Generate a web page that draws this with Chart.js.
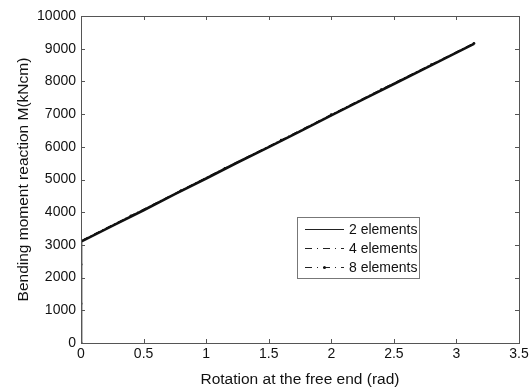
<!DOCTYPE html>
<html>
<head>
<meta charset="utf-8">
<script src="https://cdn.jsdelivr.net/npm/chart.js@4"></script>
<style>
  html, body { margin: 0; padding: 0; background: #fff; }
  #wrap { width: 532px; height: 389px; }
</style>
</head>
<body>
<div id="wrap"><canvas id="momentChart" width="532" height="389"></canvas></div>
<script>
// values
const seriesNames = ['2 elements', '4 elements', '8 elements'];
const rot2 = [0, 0, 0.25, 0.5, 0.75, 1.0, 1.25, 1.5, 1.75, 2.0, 2.25, 2.5, 2.75, 3.0, 3.14];
const mom2 = [0, 3100, 3580, 4060, 4550, 5030, 5520, 5990, 6470, 6960, 7440, 7920, 8400, 8880, 9150];
const rot4 = [0, 0, 0.5, 1.0, 1.5, 2.0, 2.5, 3.0, 3.14];
const mom4 = [0, 3110, 4070, 5040, 6000, 6970, 7930, 8890, 9160];
const rot8 = [0, 0, 0, 0, 0.4, 0.8, 1.15, 1.6, 2.0, 2.4, 2.8, 3.14];
const mom8 = [0, 1200, 2400, 3120, 3890, 4660, 5340, 6200, 6980, 7750, 8510, 9160];
const xTicks = [0, 0.5, 1, 1.5, 2, 2.5, 3, 3.5];
const yTicks = [0, 1000, 2000, 3000, 4000, 5000, 6000, 7000, 8000, 9000, 10000];

const toPoints = (xs, ys) => xs.map((x, i) => ({ x: x, y: ys[i] }));
const FONT = '"Liberation Sans", Arial, sans-serif';

// matlab style box + inward ticks
const boxPlugin = {
    id: 'box',
    afterDraw(chart) {
        const ctx = chart.ctx;
        const a = chart.chartArea;
        const xs = chart.scales.x, ys = chart.scales.y;
        ctx.save();
        ctx.strokeStyle = '#555';
        ctx.lineWidth = 1;
        ctx.strokeRect(Math.round(a.left) + 0.5, Math.round(a.top) + 0.5,
            Math.round(a.right - a.left), Math.round(a.bottom - a.top));
        ctx.beginPath();
        xTicks.forEach(v => {
            const px = Math.round(xs.getPixelForValue(v)) + 0.5;
            ctx.moveTo(px, a.bottom); ctx.lineTo(px, a.bottom - 4);
            ctx.moveTo(px, a.top); ctx.lineTo(px, a.top + 4);
        });
        yTicks.forEach(v => {
            const py = Math.round(ys.getPixelForValue(v)) + 0.5;
            ctx.moveTo(a.left, py); ctx.lineTo(a.left + 4, py);
            ctx.moveTo(a.right, py); ctx.lineTo(a.right - 4, py);
        });
        ctx.stroke();

        // legend box
        const lx = a.left + 216, ly = a.top + 201, lw = 122, lh = 61;
        ctx.fillStyle = '#fff';
        ctx.fillRect(lx, ly, lw, lh);
        ctx.strokeStyle = '#777';
        ctx.strokeRect(lx + 0.5, ly + 0.5, lw, lh);
        ctx.font = '14px ' + FONT;
        ctx.textBaseline = 'middle';
        chart.data.datasets.forEach((ds, i) => {
            const y = ly + 12 + i * 19;
            ctx.strokeStyle = '#222';
            ctx.lineWidth = 1;
            ctx.setLineDash(ds.legendDash || []);
            ctx.beginPath();
            ctx.moveTo(lx + 8, y + 0.5);
            ctx.lineTo(lx + 47, y + 0.5);
            ctx.stroke();
            ctx.setLineDash([]);
            if (i === 2) {
                ctx.fillStyle = '#111';
                ctx.beginPath();
                ctx.arc(lx + 27.5, y + 0.5, 1.5, 0, Math.PI * 2);
                ctx.fill();
            }
            ctx.fillStyle = '#111';
            ctx.fillText(ds.label, lx + 52, y + 1);
        });
        ctx.restore();
    }
};

function initializeChart() {
    const ctx = document.getElementById('momentChart').getContext('2d');
    new Chart(ctx, {
        type: 'scatter',
        data: {
            datasets: [{
                label: seriesNames[0],
                data: toPoints(rot2, mom2),
                showLine: true,
                borderColor: '#111',
                borderWidth: 2.6,
                pointRadius: 0,
                legendDash: []
            }, {
                label: seriesNames[1],
                data: toPoints(rot4, mom4),
                showLine: true,
                borderColor: '#111',
                borderWidth: 1.5,
                borderDash: [6, 3, 1, 3],
                pointRadius: 0,
                legendDash: [7, 5, 1, 5]
            }, {
                label: seriesNames[2],
                data: toPoints(rot8, mom8),
                showLine: true,
                borderColor: '#111',
                borderWidth: 1.5,
                borderDash: [6, 3, 1, 3],
                pointRadius: 1.4,
                pointBackgroundColor: '#111',
                pointBorderWidth: 0,
                legendDash: [7, 5, 1, 5]
            }]
        },
        options: {
            responsive: false,
            animation: false,
            layout: { padding: { top: 16, right: 13, left: 0, bottom: 0 } },
            plugins: {
                legend: { display: false },
                tooltip: { enabled: false }
            },
            scales: {
                x: {
                    type: 'linear',
                    min: 0,
                    max: 3.5,
                    afterFit: s => { s.height = 46; },
                    afterBuildTicks: s => { s.ticks = xTicks.map(v => ({ value: v })); },
                    grid: { display: false, drawTicks: false },
                    border: { display: false },
                    ticks: {
                        padding: 3,
                        color: '#111',
                        font: { family: FONT, size: 14 },
                        maxRotation: 0,
                        callback: v => String(v)
                    },
                    title: {
                        display: true,
                        text: 'Rotation at the free end (rad)',
                        color: '#111',
                        font: { family: FONT, size: 15.5 },
                        padding: { top: 0, bottom: 0 }
                    }
                },
                y: {
                    min: 0,
                    max: 10000,
                    afterFit: s => { s.width = 81; },
                    afterBuildTicks: s => { s.ticks = yTicks.map(v => ({ value: v })); },
                    grid: { display: false, drawTicks: false },
                    border: { display: false },
                    ticks: {
                        padding: 5,
                        color: '#111',
                        font: { family: FONT, size: 14 },
                        callback: v => String(v)
                    },
                    title: {
                        display: true,
                        text: 'Bending moment reaction M(kNcm)',
                        color: '#111',
                        font: { family: FONT, size: 15.5 },
                        padding: { top: 14, bottom: 0 }
                    }
                }
            }
        },
        plugins: [boxPlugin]
    });
}

document.addEventListener('DOMContentLoaded', initializeChart);
</script>
</body>
</html>
